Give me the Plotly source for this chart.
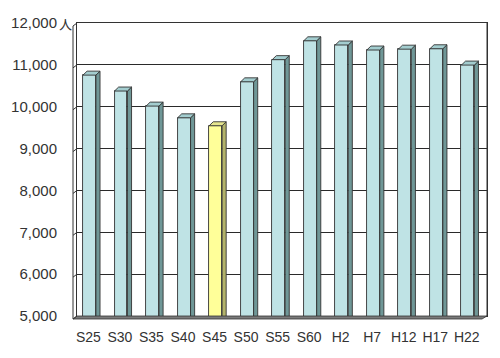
import plotly.graph_objects as go

# ---- data ----
categories = ["S25", "S30", "S35", "S40", "S45", "S50", "S55", "S60",
              "H2", "H7", "H12", "H17", "H22"]
population = [10800, 10420, 10060, 9780, 9590, 10640, 11170, 11620,
              11520, 11400, 11420, 11430, 11040]
highlight = "S45"
y_ticks = [5000, 6000, 7000, 8000, 9000, 10000, 11000, 12000]
y_tick_labels = ["5,000", "6,000", "7,000", "8,000", "9,000", "10,000", "11,000", "12,000"]
unit_label = "人"

# ---- style / geometry ----
W, H = 500, 358
L, R, T, B = 77, 13, 23, 42
PW, PH = W - L - R, H - T - B
FONT = "Liberation Sans, Arial, sans-serif"
FRONT = {"n": "#bfe3e5", "h": "#ffff99"}
SIDE = {"n": "#6f9797", "h": "#b3b36a"}
TOP = {"n": "#a3cdcf", "h": "#e6e68f"}
EDGE = "#333333"

bar_off, bar_w = -0.31, 0.41   # front face, in category units
depth_x = 0.13                 # side face width in category units
depth_y = 95                   # cap rise in value units
front_drop = 45
label_shift = -0.14

xs = list(range(len(categories)))
kind = ["h" if c == highlight else "n" for c in categories]

fig = go.Figure()

# front faces
fig.add_trace(go.Bar(
    x=xs, y=[v - front_drop for v in population],
    width=bar_w, offset=bar_off,
    marker=dict(color=[FRONT[k] for k in kind], line=dict(color=EDGE, width=0.9)),
    hoverinfo="skip", showlegend=False,
))

# side faces and top caps (polygons derived from the data)
for k in ("n", "h"):
    sx, sy, tx, ty = [], [], [], []
    for i, v in enumerate(population):
        if kind[i] != k:
            continue
        x1 = i + bar_off + bar_w
        x0 = i + bar_off
        yt = v - front_drop
        sx += [x1, x1 + depth_x, x1 + depth_x, x1, x1, None]
        sy += [4000, 4000 + depth_y, yt + depth_y, yt, 4000, None]
        tx += [x0, x1, x1 + depth_x, x0 + depth_x, x0, None]
        ty += [yt, yt, yt + depth_y, yt + depth_y, yt, None]
    fig.add_trace(go.Scatter(x=sx, y=sy, mode="lines", fill="toself",
                             fillcolor=SIDE[k], line=dict(color=EDGE, width=0.9),
                             hoverinfo="skip", showlegend=False))
    fig.add_trace(go.Scatter(x=tx, y=ty, mode="lines", fill="toself",
                             fillcolor=TOP[k], line=dict(color=EDGE, width=0.9),
                             hoverinfo="skip", showlegend=False))


def px(xp):
    return (xp - L) / PW


def py(yp):
    return (H - B - yp) / PH


shapes = []
# floor strip
floor_path = "M {a},{b} L {c},{d} L {e},{f} L {g},{h} Z".format(
    a=px(73), b=py(319), c=px(482), d=py(319), e=px(487), f=py(316), g=px(77), h=py(316))
shapes.append(dict(type="path", path=floor_path, xref="paper", yref="paper",
                   fillcolor="#7a7a7a", line=dict(color=EDGE, width=0.8), layer="above"))
# left side wall
shapes.append(dict(type="line", xref="paper", yref="paper",
                   x0=px(73), y0=py(26), x1=px(73), y1=py(319),
                   line=dict(color=EDGE, width=1)))
for t in y_ticks:
    yy = (t - y_ticks[0]) / (y_ticks[-1] - y_ticks[0])
    shapes.append(dict(type="line", xref="paper", yref="paper",
                       x0=px(73), y0=yy - 3 / PH, x1=0, y1=yy,
                       line=dict(color=EDGE, width=1)))
shapes.append(dict(type="line", xref="paper", yref="paper",
                   x0=1, y0=0, x1=1, y1=1, line=dict(color=EDGE, width=1)))

fig.update_layout(
    width=W, height=H,
    margin=dict(l=L, r=R, t=T, b=B),
    paper_bgcolor="white", plot_bgcolor="white",
    bargap=0,
    shapes=shapes,
    font=dict(family=FONT, size=15, color="#333333"),
    xaxis=dict(range=[-0.5, len(categories) - 0.5],
               tickvals=[i + label_shift for i in xs], ticktext=categories,
               showgrid=False, zeroline=False, showline=True, mirror=True,
               linecolor=EDGE, linewidth=1, ticks="", ticklabelstandoff=8,
               automargin=False,
               tickfont=dict(family=FONT, size=14, color="#333333")),
    yaxis=dict(range=[y_ticks[0], y_ticks[-1]], tickvals=y_ticks, ticktext=y_tick_labels,
               showgrid=True, gridcolor="#2a2a2a", gridwidth=1.2, zeroline=False,
               showline=True, mirror=True, linecolor=EDGE, linewidth=1,
               ticks="", ticklabelstandoff=16, automargin=False,
               tickfont=dict(family=FONT, size=15, color="#333333")),
    annotations=[dict(text=unit_label, xref="paper", yref="y", x=px(57), y=y_ticks[-1],
                      xanchor="left", yanchor="middle", showarrow=False,
                      font=dict(family="Noto Sans CJK JP", size=13, color="#333333"))],
)

fig.write_html("out.html", config={"displayModeBar": False},
               post_script="document.body.style.margin='0';document.body.style.overflow='hidden';")
